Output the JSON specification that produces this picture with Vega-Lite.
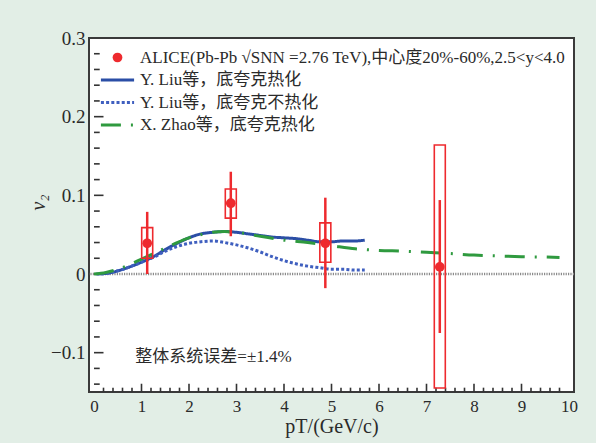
{
  "$schema": "https://vega.github.io/schema/vega-lite/v6.json",
  "width": 485,
  "height": 354,
  "autosize": {"type": "none"},
  "padding": {"left": 89, "top": 38, "right": 22, "bottom": 51},
  "background": "#e2eee6",
  "datasets": {
    "alice": [
      {"pt": 1.12, "v2": 0.039, "stat_lo": 0.0, "stat_hi": 0.079, "sys_lo": 0.020, "sys_hi": 0.059},
      {"pt": 2.88, "v2": 0.090, "stat_lo": 0.048, "stat_hi": 0.130, "sys_lo": 0.071, "sys_hi": 0.108},
      {"pt": 4.87, "v2": 0.039, "stat_lo": -0.018, "stat_hi": 0.097, "sys_lo": 0.015, "sys_hi": 0.065},
      {"pt": 7.28, "v2": 0.009, "stat_lo": -0.075, "stat_hi": 0.094, "sys_lo": -0.145, "sys_hi": 0.164}
    ],
    "curves": [
      {"series": "LiuTh", "pt": 0.05, "v2": 0.0},
      {"series": "LiuTh", "pt": 0.3, "v2": 0.001},
      {"series": "LiuTh", "pt": 0.5, "v2": 0.004},
      {"series": "LiuTh", "pt": 0.75, "v2": 0.009},
      {"series": "LiuTh", "pt": 1.0, "v2": 0.015},
      {"series": "LiuTh", "pt": 1.25, "v2": 0.022},
      {"series": "LiuTh", "pt": 1.5, "v2": 0.031},
      {"series": "LiuTh", "pt": 1.75, "v2": 0.039},
      {"series": "LiuTh", "pt": 2.0, "v2": 0.046},
      {"series": "LiuTh", "pt": 2.25, "v2": 0.051},
      {"series": "LiuTh", "pt": 2.5, "v2": 0.053},
      {"series": "LiuTh", "pt": 2.75, "v2": 0.054},
      {"series": "LiuTh", "pt": 3.0, "v2": 0.053},
      {"series": "LiuTh", "pt": 3.25, "v2": 0.051},
      {"series": "LiuTh", "pt": 3.5, "v2": 0.049},
      {"series": "LiuTh", "pt": 3.75, "v2": 0.047},
      {"series": "LiuTh", "pt": 4.0, "v2": 0.046},
      {"series": "LiuTh", "pt": 4.25, "v2": 0.045},
      {"series": "LiuTh", "pt": 4.5, "v2": 0.043},
      {"series": "LiuTh", "pt": 4.75, "v2": 0.041},
      {"series": "LiuTh", "pt": 5.0, "v2": 0.041},
      {"series": "LiuTh", "pt": 5.25, "v2": 0.042},
      {"series": "LiuTh", "pt": 5.5, "v2": 0.042},
      {"series": "LiuTh", "pt": 5.7, "v2": 0.043},
      {"series": "LiuNoTh", "pt": 0.15, "v2": 0.0},
      {"series": "LiuNoTh", "pt": 0.5, "v2": 0.004},
      {"series": "LiuNoTh", "pt": 0.75, "v2": 0.009},
      {"series": "LiuNoTh", "pt": 1.0, "v2": 0.015},
      {"series": "LiuNoTh", "pt": 1.25, "v2": 0.021},
      {"series": "LiuNoTh", "pt": 1.5, "v2": 0.029},
      {"series": "LiuNoTh", "pt": 1.75, "v2": 0.035},
      {"series": "LiuNoTh", "pt": 2.0, "v2": 0.039},
      {"series": "LiuNoTh", "pt": 2.25, "v2": 0.041},
      {"series": "LiuNoTh", "pt": 2.5, "v2": 0.042},
      {"series": "LiuNoTh", "pt": 2.75, "v2": 0.040},
      {"series": "LiuNoTh", "pt": 3.0, "v2": 0.037},
      {"series": "LiuNoTh", "pt": 3.25, "v2": 0.033},
      {"series": "LiuNoTh", "pt": 3.5, "v2": 0.028},
      {"series": "LiuNoTh", "pt": 3.75, "v2": 0.022},
      {"series": "LiuNoTh", "pt": 4.0, "v2": 0.017},
      {"series": "LiuNoTh", "pt": 4.25, "v2": 0.013},
      {"series": "LiuNoTh", "pt": 4.5, "v2": 0.010},
      {"series": "LiuNoTh", "pt": 4.75, "v2": 0.008},
      {"series": "LiuNoTh", "pt": 5.0, "v2": 0.006},
      {"series": "LiuNoTh", "pt": 5.25, "v2": 0.006},
      {"series": "LiuNoTh", "pt": 5.5, "v2": 0.005},
      {"series": "LiuNoTh", "pt": 5.7, "v2": 0.005},
      {"series": "Zhao", "pt": 0.0, "v2": 0.0},
      {"series": "Zhao", "pt": 0.25, "v2": 0.002},
      {"series": "Zhao", "pt": 0.5, "v2": 0.006},
      {"series": "Zhao", "pt": 0.75, "v2": 0.012},
      {"series": "Zhao", "pt": 1.0, "v2": 0.019},
      {"series": "Zhao", "pt": 1.25, "v2": 0.026},
      {"series": "Zhao", "pt": 1.5, "v2": 0.033},
      {"series": "Zhao", "pt": 1.75, "v2": 0.040},
      {"series": "Zhao", "pt": 2.0, "v2": 0.046},
      {"series": "Zhao", "pt": 2.25, "v2": 0.050},
      {"series": "Zhao", "pt": 2.5, "v2": 0.053},
      {"series": "Zhao", "pt": 2.75, "v2": 0.054},
      {"series": "Zhao", "pt": 3.0, "v2": 0.053},
      {"series": "Zhao", "pt": 3.5, "v2": 0.048},
      {"series": "Zhao", "pt": 4.0, "v2": 0.043},
      {"series": "Zhao", "pt": 4.5, "v2": 0.040},
      {"series": "Zhao", "pt": 5.0, "v2": 0.036},
      {"series": "Zhao", "pt": 5.5, "v2": 0.032},
      {"series": "Zhao", "pt": 6.0, "v2": 0.030},
      {"series": "Zhao", "pt": 6.5, "v2": 0.029},
      {"series": "Zhao", "pt": 7.0, "v2": 0.0275},
      {"series": "Zhao", "pt": 7.5, "v2": 0.026},
      {"series": "Zhao", "pt": 8.0, "v2": 0.024},
      {"series": "Zhao", "pt": 8.5, "v2": 0.023},
      {"series": "Zhao", "pt": 9.0, "v2": 0.022},
      {"series": "Zhao", "pt": 9.5, "v2": 0.0215},
      {"series": "Zhao", "pt": 9.8, "v2": 0.021}
    ],
    "alicePoints": [
      {"series": "ALICE", "pt": 1.12, "v2": 0.039},
      {"series": "ALICE", "pt": 2.88, "v2": 0.090},
      {"series": "ALICE", "pt": 4.87, "v2": 0.039},
      {"series": "ALICE", "pt": 7.28, "v2": 0.009}
    ],
    "zero": [{"v2": 0}],
    "yMajor": [{"t": -0.1}, {"t": 0}, {"t": 0.1}, {"t": 0.2}],
    "yMinor": [{"t": -0.14}, {"t": -0.12}, {"t": -0.08}, {"t": -0.06}, {"t": -0.04}, {"t": -0.02}, {"t": 0.02}, {"t": 0.04}, {"t": 0.06}, {"t": 0.08}, {"t": 0.12}, {"t": 0.14}, {"t": 0.16}, {"t": 0.18}, {"t": 0.22}, {"t": 0.24}, {"t": 0.26}, {"t": 0.28}],
    "xMajor": [{"t": 1}, {"t": 2}, {"t": 3}, {"t": 4}, {"t": 5}, {"t": 6}, {"t": 7}, {"t": 8}, {"t": 9}],
    "xMinor": [{"t": 0.2}, {"t": 0.4}, {"t": 0.6}, {"t": 0.8}, {"t": 1.2}, {"t": 1.4}, {"t": 1.6}, {"t": 1.8}, {"t": 2.2}, {"t": 2.4}, {"t": 2.6}, {"t": 2.8}, {"t": 3.2}, {"t": 3.4}, {"t": 3.6}, {"t": 3.8}, {"t": 4.2}, {"t": 4.4}, {"t": 4.6}, {"t": 4.8}, {"t": 5.2}, {"t": 5.4}, {"t": 5.6}, {"t": 5.8}, {"t": 6.2}, {"t": 6.4}, {"t": 6.6}, {"t": 6.8}, {"t": 7.2}, {"t": 7.4}, {"t": 7.6}, {"t": 7.8}, {"t": 8.2}, {"t": 8.4}, {"t": 8.6}, {"t": 8.8}, {"t": 9.2}, {"t": 9.4}, {"t": 9.6}, {"t": 9.8}]
  },
  "layer": [
    {
      "data": {"name": "zero"},
      "mark": {"type": "rule", "stroke": "#8a8a8a", "strokeWidth": 2.5, "strokeDash": [1.2, 1.2]},
      "encoding": {"y": {"field": "v2", "type": "quantitative"}}
    },
    {
      "data": {"name": "yMajor"},
      "mark": {"type": "rule", "stroke": "#333333", "strokeWidth": 1.6},
      "encoding": {
        "y": {"field": "t", "type": "quantitative"},
        "x": {"datum": 0, "type": "quantitative"},
        "x2": {"datum": 0.2}
      }
    },
    {
      "data": {"name": "yMinor"},
      "mark": {"type": "rule", "stroke": "#333333", "strokeWidth": 1.6},
      "encoding": {
        "y": {"field": "t", "type": "quantitative"},
        "x": {"datum": 0, "type": "quantitative"},
        "x2": {"datum": 0.12}
      }
    },
    {
      "data": {"name": "xMajor"},
      "mark": {"type": "rule", "stroke": "#333333", "strokeWidth": 1.6},
      "encoding": {
        "x": {"field": "t", "type": "quantitative"},
        "y": {"datum": -0.15, "type": "quantitative"},
        "y2": {"datum": -0.1395}
      }
    },
    {
      "data": {"name": "xMinor"},
      "mark": {"type": "rule", "stroke": "#333333", "strokeWidth": 1.6},
      "encoding": {
        "x": {"field": "t", "type": "quantitative"},
        "y": {"datum": -0.15, "type": "quantitative"},
        "y2": {"datum": -0.1445}
      }
    },
    {
      "data": {"name": "curves"},
      "mark": {"type": "line", "strokeWidth": 3, "interpolate": "monotone"},
      "encoding": {
        "x": {"field": "pt", "type": "quantitative"},
        "y": {"field": "v2", "type": "quantitative"},
        "detail": {"field": "series"},
        "color": {"field": "series", "type": "nominal"},
        "strokeDash": {
          "field": "series", "type": "nominal",
          "scale": {"domain": ["LiuTh", "LiuNoTh", "Zhao"], "range": [[1, 0], [3, 2.2], [20, 10, 2, 10]]},
          "legend": null
        }
      }
    },
    {
      "data": {"name": "alice"},
      "mark": {"type": "bar", "width": 11, "fill": null, "fillOpacity": 0, "stroke": "#ee2a2e", "strokeWidth": 1.6},
      "encoding": {
        "x": {"field": "pt", "type": "quantitative"},
        "y": {"field": "sys_lo", "type": "quantitative"},
        "y2": {"field": "sys_hi"}
      }
    },
    {
      "data": {"name": "alice"},
      "mark": {"type": "rule", "stroke": "#ee2a2e", "strokeWidth": 2.5},
      "encoding": {
        "x": {"field": "pt", "type": "quantitative"},
        "y": {"field": "stat_lo", "type": "quantitative"},
        "y2": {"field": "stat_hi"}
      }
    },
    {
      "data": {"name": "alicePoints"},
      "mark": {"type": "point", "filled": true, "size": 95, "opacity": 1, "shape": "circle"},
      "encoding": {
        "x": {"field": "pt", "type": "quantitative"},
        "y": {"field": "v2", "type": "quantitative"},
        "color": {"field": "series", "type": "nominal"}
      }
    },
    {
      "data": {"name": "zero"},
      "mark": {"type": "text", "align": "left", "baseline": "middle", "font": "Liberation Serif, Noto Sans CJK SC", "fontSize": 17, "color": "#2a2a2a"},
      "encoding": {
        "x": {"datum": 0.87, "type": "quantitative"},
        "y": {"datum": -0.105, "type": "quantitative"},
        "text": {"value": "整体系统误差=±1.4%"}
      }
    }
  ],
  "encoding": {
    "x": {
      "type": "quantitative",
      "scale": {"domain": [0, 10], "nice": false, "zero": false},
      "axis": {
        "title": "pT/(GeV/c)",
        "values": [0,1,2,3,4,5,6,7,8,9,10],
        "format": "d",
        "ticks": false,
        "tickSize": 0,
        "labelFontSize": 17,
        "labelPadding": 6,
        "titlePadding": 2
      }
    },
    "y": {
      "type": "quantitative",
      "scale": {"domain": [-0.15, 0.3], "nice": false, "zero": false},
      "axis": {
        "title": "v₂",
        "values": [-0.1, 0, 0.1, 0.2, 0.3],
        "labelExpr": "datum.value === 0 ? '0' : format(datum.value, '.1f')",
        "ticks": false,
        "tickSize": 0,
        "labelFontSize": 19,
        "labelPadding": 4,
        "titleFontStyle": "italic",
        "titleAngle": -90,
        "titleX": -51,
        "titleY": 164,
        "titleAlign": "center",
        "titleBaseline": "middle"
      }
    },
    "color": {
      "type": "nominal",
      "scale": {"domain": ["ALICE", "LiuTh", "LiuNoTh", "Zhao"], "range": ["#ee2a2e", "#2b4ea6", "#3f5fbf", "#2f9a3f"]},
      "legend": {
        "title": null,
        "orient": "none",
        "legendX": 20,
        "legendY": 11,
        "padding": 0,
        "symbolType": "stroke",
        "symbolSize": 1100,
        "symbolStrokeWidth": 3,
        "labelOffset": 14,
        "rowPadding": 4.5,
        "labelFont": "Liberation Serif, Noto Sans CJK SC",
        "labelFontSize": 17,
        "labelColor": "#2a2a2a",
        "labelLimit": 600,
        "labelExpr": "datum.value === 'ALICE' ? 'ALICE(Pb-Pb √SNN =2.76 TeV),中心度20%-60%,2.5<y<4.0' : datum.value === 'LiuTh' ? 'Y. Liu等，底夸克热化' : datum.value === 'LiuNoTh' ? 'Y. Liu等，底夸克不热化' : 'X. Zhao等，底夸克热化'",
        "encode": {
          "symbols": {
            "update": {
              "shape": {"signal": "datum.value === 'ALICE' ? 'circle' : 'stroke'"},
              "size": {"signal": "datum.value === 'ALICE' ? 95 : 1100"},
              "strokeDash": {"signal": "datum.value === 'LiuNoTh' ? [3, 2.2] : datum.value === 'Zhao' ? [20, 10, 2, 10] : [1, 0]"},
              "strokeWidth": {"signal": "datum.value === 'ALICE' ? 0 : 3"},
              "fill": {"signal": "datum.value === 'ALICE' ? '#ee2a2e' : 'transparent'"},
              "fillOpacity": {"value": 1},
              "strokeOpacity": {"value": 1}
            }
          }
        }
      }
    }
  },
  "config": {
    "view": {"stroke": "#3a3a3a", "strokeWidth": 2, "fill": "#ffffff"},
    "axis": {
      "domain": false,
      "grid": false,
      "labelFont": "Liberation Serif",
      "labelColor": "#2a2a2a",
      "labelOverlap": false,
      "labelFlush": false,
      "titleFont": "Liberation Serif",
      "titleFontSize": 20,
      "titleFontWeight": "normal",
      "titleColor": "#2a2a2a"
    }
  }
}
